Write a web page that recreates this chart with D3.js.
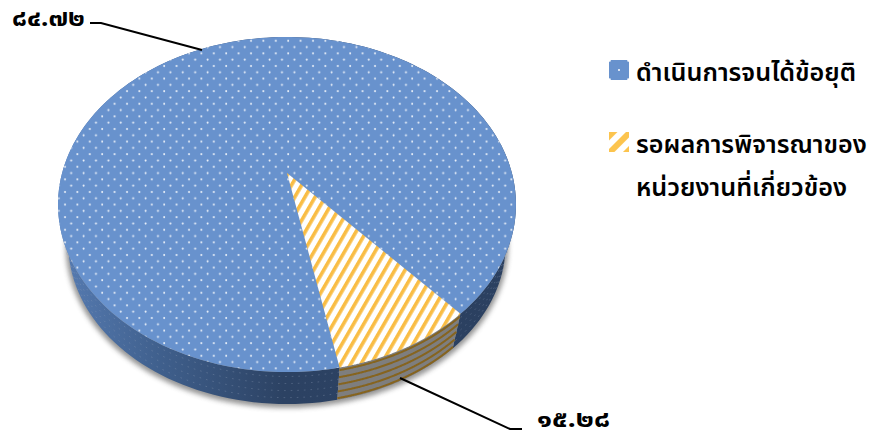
<!DOCTYPE html>
<html lang="th">
<head>
<meta charset="utf-8">
<script src="https://cdnjs.cloudflare.com/ajax/libs/d3/7.8.5/d3.min.js"></script>
<style>
  html, body { margin: 0; padding: 0; background: #fff; }
  svg { display: block; }
  text { font-family: "Noto Sans", "Noto Sans Thai", "Open Sans", sans-serif; fill: #000; }
</style>
</head>
<body>
<svg id="chart" width="872" height="434"></svg>
<script>
// Case outcome shares, in percent
const categories = ["ดำเนินการจนได้ข้อยุติ", "รอผลการพิจารณาของหน่วยงานที่เกี่ยวข้อง"];
const shares = [84.72, 15.28];
const shareLabels = ["๘๔.๗๒", "๑๕.๒๘"];
const legendLines = [["ดำเนินการจนได้ข้อยุติ"], ["รอผลการพิจารณาของ", "หน่วยงานที่เกี่ยวข้อง"]];

const svg = d3.select("#chart");
const defs = svg.append("defs");
const rad = Math.PI / 180;

// Perspective view of the pie disc: top face and the slightly smaller underside
const view = { x0: 287, y0: 173, a: 224.9, b: 161.6, p: 0.188 };
const under = { x0: 287, y0: 214, a: 224.9 * 0.955, b: 161.6 * 0.955, p: 0.188 };
const project = (v, th, k = 1) => {
  const u = Math.sin(th) * k, w = Math.cos(th) * k, d = 1 + v.p * w;
  return [v.x0 + v.a * u / d, v.y0 - v.b * w / d];
};

const start = 169 * rad;
const arcs = d3.pie().sort(null).startAngle(start).endAngle(start + 2 * Math.PI)(shares);

// The tilted camera foreshortens the near slice along the rim
const rimAngle = d3.scaleLinear()
  .domain([arcs[0].startAngle, arcs[0].endAngle, arcs[1].endAngle])
  .range([start, start + 329.5 * rad, start + 2 * Math.PI]);

const line = d3.line();
const samples = (a0, a1) => d3.range(0, 181).map(i => rimAngle(a0 + (a1 - a0) * i / 180));
const rim = (v, a0, a1) => samples(a0, a1).map(th => project(v, th));
const between = (t, a0, a1) => samples(a0, a1).map(th => {
  const p = project(view, th), q = project(under, th);
  return [p[0] + (q[0] - p[0]) * t, p[1] + (q[1] - p[1]) * t];
});

// Fill patterns
const dots = defs.append("pattern").attr("id", "dots").attr("patternUnits", "userSpaceOnUse")
  .attr("width", 12.4).attr("height", 12.6);
dots.append("rect").attr("width", 12.4).attr("height", 12.6).attr("fill", "#6892cd");
[[3, 3], [9.2, 9.3]].forEach(([x, y]) =>
  dots.append("circle").attr("cx", x).attr("cy", y).attr("r", 1).attr("fill", "#fff").attr("opacity", 0.88));

const hatch = defs.append("pattern").attr("id", "hatch").attr("patternUnits", "userSpaceOnUse")
  .attr("width", 8.8).attr("height", 8.8).attr("patternTransform", "rotate(-60)");
hatch.append("rect").attr("width", 8.8).attr("height", 8.8).attr("fill", "#fff");
hatch.append("rect").attr("width", 8.8).attr("height", 3.6).attr("fill", "#f9bd45");

const keyDots = defs.append("pattern").attr("id", "keyDots").attr("patternUnits", "userSpaceOnUse")
  .attr("width", 20).attr("height", 20).attr("x", 609).attr("y", 60);
keyDots.append("rect").attr("width", 20).attr("height", 20).attr("fill", "#6892cd");
[[0.8, 0.8], [10, 10], [19.2, 0.8], [0.8, 19.2], [19.2, 19.2]].forEach(([x, y]) =>
  keyDots.append("circle").attr("cx", x).attr("cy", y).attr("r", 1).attr("fill", "#fff"));

const keyHatch = defs.append("pattern").attr("id", "keyHatch").attr("patternUnits", "userSpaceOnUse")
  .attr("width", 12).attr("height", 12).attr("patternTransform", "translate(609,132) rotate(-45)");
keyHatch.append("rect").attr("width", 12).attr("height", 12).attr("fill", "#fff");
keyHatch.append("rect").attr("width", 12).attr("height", 6).attr("fill", "#fcc44e");

const wallShade = defs.append("linearGradient").attr("id", "wallShade")
  .attr("gradientUnits", "userSpaceOnUse").attr("x1", 66).attr("x2", 500).attr("y1", 0).attr("y2", 0);
[[0, "#557ab0"], [0.22, "#3f5f8c"], [0.5, "#2c4263"], [1, "#2b4060"]].forEach(([o, c]) =>
  wallShade.append("stop").attr("offset", o).attr("stop-color", c));

const blur = defs.append("filter").attr("id", "soft").attr("x", "-10%").attr("y", "-10%")
  .attr("width", "120%").attr("height", "120%");
blur.append("feGaussianBlur").attr("stdDeviation", 2.6);

// Drop shadow under the disc
const full = [arcs[0].startAngle, arcs[1].endAngle];
svg.append("path")
  .attr("d", line(rim({ ...under, a: under.a * 1.012, b: under.b * 1.012 }, ...full)) + "Z")
  .attr("fill", "#555").attr("opacity", 0.62).attr("filter", "url(#soft)")
  .attr("transform", "translate(0,1.5)");

// Side wall of each slice, painted back to front below the top face
const wallPath = (a0, a1) => line(rim(view, a0, a1).concat(rim(under, a0, a1).reverse())) + "Z";
const wallFills = ["url(#wallShade)", "#7e7e7e"];
svg.selectAll("path.wall").data(arcs).join("path").attr("class", "wall")
  .attr("d", d => wallPath(d.startAngle, d.endAngle))
  .attr("fill", (d, i) => wallFills[i]);

const depthSteps = [0.14, 0.36, 0.58, 0.8];
const blueArc = arcs[0], orangeArc = arcs[1];
svg.append("g").selectAll("path").data(depthSteps).join("path")
  .attr("d", t => line(between(t, blueArc.startAngle, blueArc.endAngle)))
  .attr("fill", "none").attr("stroke", "#93a3ba").attr("stroke-opacity", 0.32)
  .attr("stroke-width", 1).attr("stroke-dasharray", "1.6 5");
svg.append("g").selectAll("path").data([0.08, 0.3, 0.52, 0.74, 0.95]).join("path")
  .attr("d", t => line(between(t, orangeArc.startAngle, orangeArc.endAngle)))
  .attr("fill", "none").attr("stroke", "#86641f").attr("stroke-width", 2);

// Top face
const facePath = d => line([[view.x0, view.y0]].concat(rim(view, d.startAngle, d.endAngle))) + "Z";
const faceFills = ["url(#dots)", "url(#hatch)"];
svg.selectAll("path.face").data(arcs).join("path").attr("class", "face")
  .attr("d", facePath)
  .attr("fill", (d, i) => faceFills[i]);

// Value labels with leader lines
const labelX = d3.scaleOrdinal().domain(shareLabels).range([12, 537]);
const labelY = d3.scaleOrdinal().domain(shareLabels).range([26, 427]);
svg.append("g").selectAll("text").data(shareLabels).join("text")
  .attr("x", d => labelX(d)).attr("y", d => labelY(d))
  .attr("font-size", 23).attr("font-weight", 700)
  .attr("textLength", 73).attr("lengthAdjust", "spacingAndGlyphs")
  .text(d => d);

const leaders = [[[90, 23], [101, 23], [202, 50]], [[400, 378], [510, 429], [522, 429]]];
svg.append("g").selectAll("path").data(leaders).join("path")
  .attr("d", line).attr("fill", "none").attr("stroke", "#000").attr("stroke-width", 2);

// Legend
const keyFills = ["url(#keyDots)", "url(#keyHatch)"];
const keyTop = [60, 132];
const legend = svg.append("g").selectAll("g").data(categories).join("g");
legend.append("rect").attr("x", 609).attr("y", (d, i) => keyTop[i])
  .attr("width", 20).attr("height", 20).attr("fill", (d, i) => keyFills[i]);
legend.append("text").attr("font-size", 25.2).attr("font-weight", 600)
  .selectAll("tspan").data((d, i) => legendLines[i].map((s, j) => ({ s, i, j }))).join("tspan")
  .attr("x", 636).attr("y", d => keyTop[d.i] + 21 + d.j * 43)
  .text(d => d.s);
</script>
</body>
</html>
